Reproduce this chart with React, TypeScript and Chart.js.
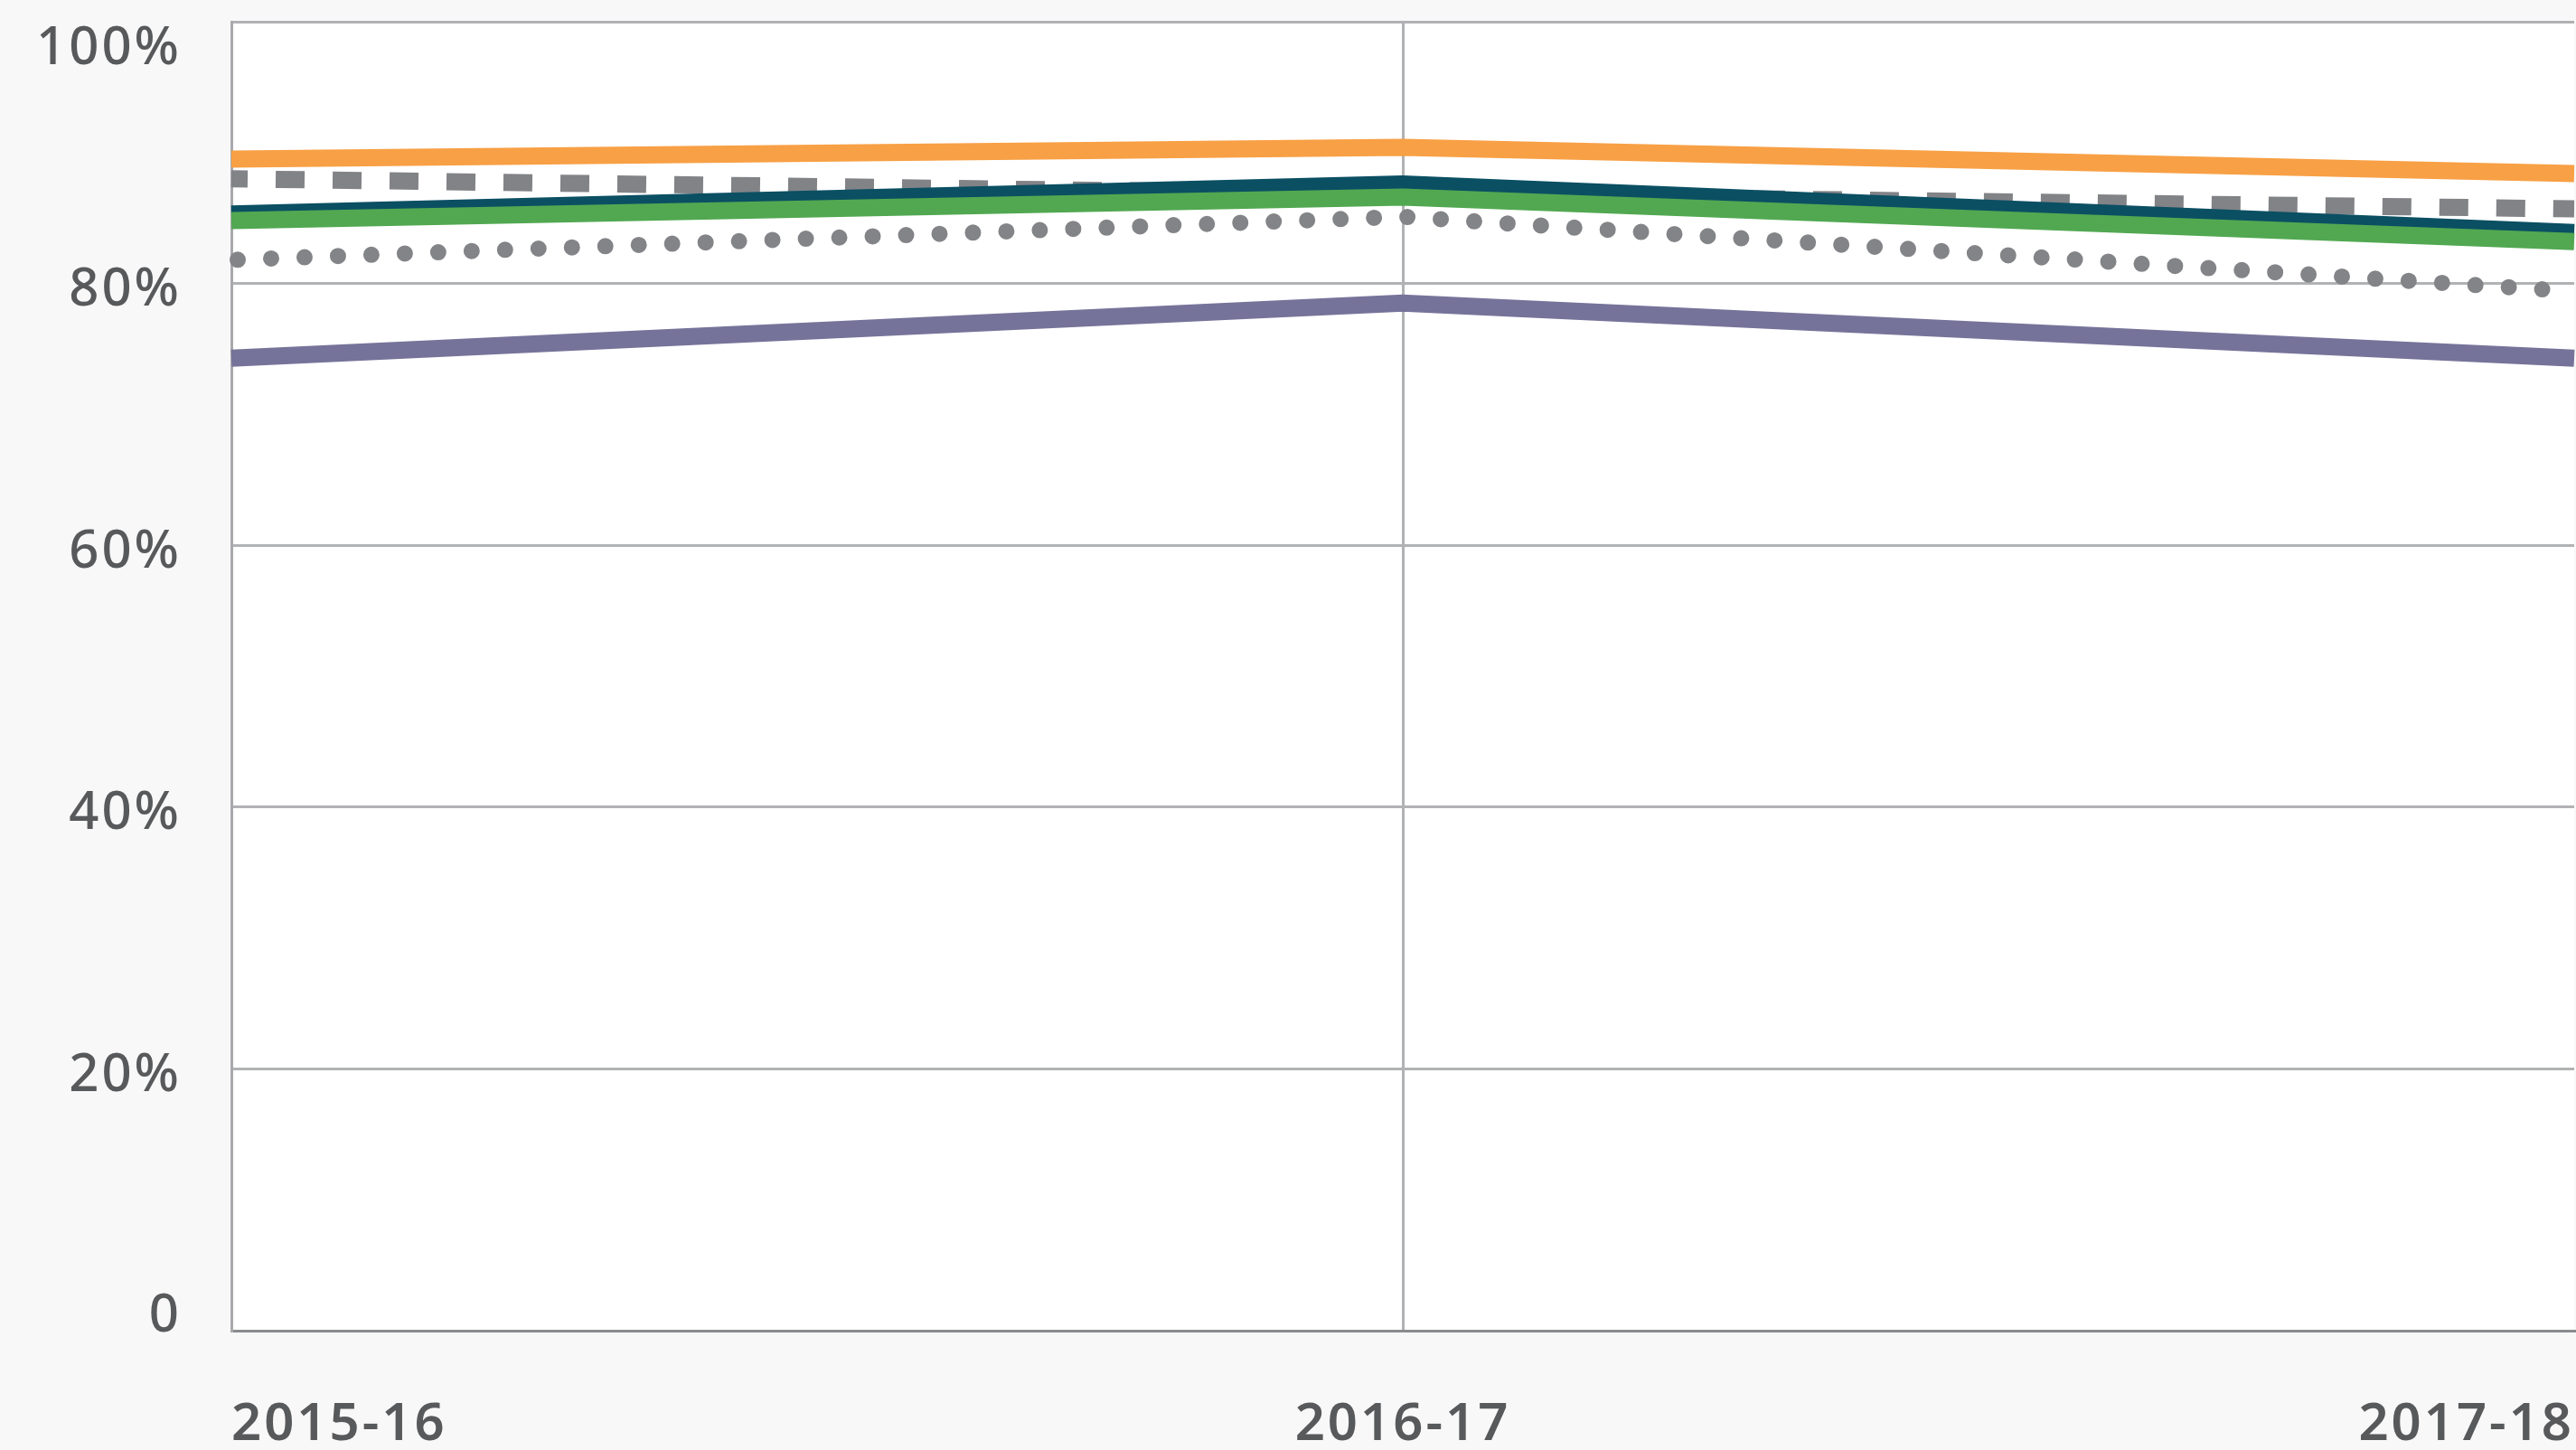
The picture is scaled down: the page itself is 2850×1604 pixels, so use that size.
import React, { useEffect, useRef } from 'react';
import { Chart, registerables } from 'chart.js';

Chart.register(...registerables);

const categories = ['2015-16', '2016-17', '2017-18'];
const greenValues = [84.8, 86.6, 83.2];
const tealValues = [85.3, 87.6, 83.9];
const dashedGreyValues = [88.0, 86.8, 85.7];
const orangeValues = [89.5, 90.4, 88.4];
const dottedGreyValues = [81.8, 85.1, 79.4];
const purpleValues = [74.3, 78.5, 74.3];
const yTickMin = 0;
const yTickMax = 100;
const yTickStep = 20;

const TEXT = '#58595b';
const FONT = "'Noto Sans', 'Open Sans', sans-serif";

export default function App() {
  const ref = useRef<HTMLCanvasElement>(null);

  useEffect(() => {
    document.documentElement.style.overflow = 'hidden';
    document.body.style.overflow = 'hidden';
    const canvas = ref.current!;
    const styling = {
      id: 'styling',
      beforeLayout(chart: any) {
        chart.ctx.letterSpacing = '3px';
      },
      beforeDraw(chart: any) {
        const { ctx, chartArea: a } = chart;
        ctx.letterSpacing = '3px';
        ctx.save();
        ctx.fillStyle = '#ffffff';
        ctx.fillRect(a.left, a.top, a.right - a.left, a.bottom - a.top);
        ctx.restore();
      },
    };
    const base = { fill: false, pointRadius: 0, pointHoverRadius: 0, tension: 0 };
    const chart = new Chart(canvas, {
      type: 'line',
      data: {
        labels: categories,
        datasets: [
          { ...base, label: 'Green', data: greenValues, borderColor: '#51a851', borderWidth: 19, borderCapStyle: 'butt' },
          { ...base, label: 'Teal', data: tealValues, borderColor: '#0b4f63', borderWidth: 19, borderCapStyle: 'butt' },
          { ...base, label: 'Grey dashed', data: dashedGreyValues, borderColor: '#828387', borderWidth: 19, borderCapStyle: 'butt', borderDash: [32, 31], borderDashOffset: 14 },
          { ...base, label: 'Orange', data: orangeValues, borderColor: '#f8a045', borderWidth: 19, borderCapStyle: 'butt' },
          { ...base, label: 'Grey dotted', data: dottedGreyValues, borderColor: '#838487', borderWidth: 18, borderCapStyle: 'round', borderDash: [0, 37], borderDashOffset: 30 },
          { ...base, label: 'Purple', data: purpleValues, borderColor: '#76739a', borderWidth: 19, borderCapStyle: 'butt' },
        ] as any,
      },
      options: {
        animation: false,
        responsive: false,
        devicePixelRatio: 1,
        layout: { padding: { top: 24, right: 2, left: 0, bottom: 0 } },
        plugins: { legend: { display: false }, tooltip: { enabled: false }, title: { display: false } },
        scales: {
          x: {
            type: 'category',
            offset: false,
            grid: {
              drawTicks: false,
              color: (c: any) => (c.index === categories.length - 1 ? 'rgba(0,0,0,0)' : '#b1b2b4'),
              lineWidth: 3,
            },
            border: { display: true, color: '#8a8b8e', width: 3 },
            ticks: {
              align: 'inner',
              padding: 70,
              maxRotation: 0,
              autoSkip: false,
              color: TEXT,
              font: { family: FONT, size: 58, weight: '600' },
            },
            afterFit: (s: any) => {
              s.height = 132;
              s.paddingLeft = 0;
              s.paddingRight = 0;
            },
          },
          y: {
            min: yTickMin,
            max: yTickMax,
            grid: { drawTicks: false, color: '#b1b2b4', lineWidth: 3 },
            border: { display: true, color: '#a8a9ad', width: 3 },
            ticks: {
              stepSize: yTickStep,
              padding: 55,
              color: TEXT,
              font: (c: any) => {
                const v = c.tick ? c.tick.value : null;
                return {
                  family: FONT,
                  size: 58,
                  weight: '500',
                  lineHeight: v === yTickMax ? '60px' : v === yTickMin ? '32px' : '16px',
                };
              },
              callback: (value: any) => {
                const v = Number(value);
                if (v === yTickMin) return ['0', ''];
                return ['', v + '%'];
              },
            },
            afterFit: (s: any) => {
              s.width = 256;
              s.paddingTop = 0;
              s.paddingBottom = 0;
            },
          },
        },
      } as any,
      plugins: [styling],
    });
    return () => chart.destroy();
  }, []);

  return (
    <div style={{ position: 'fixed', left: 0, top: 0, width: 2850, height: 1604, background: '#f8f8f8' }}>
      <canvas ref={ref} width={2850} height={1604} style={{ display: 'block', width: 2850, height: 1604 }} />
    </div>
  );
}
